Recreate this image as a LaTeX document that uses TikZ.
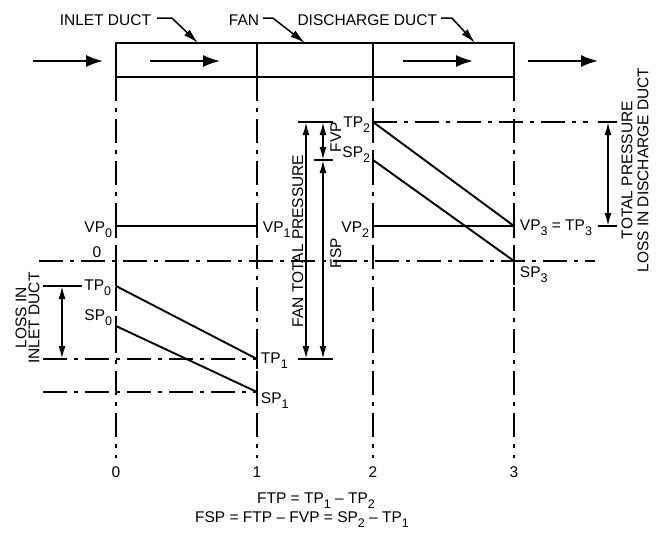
\documentclass[tikz,border=0pt]{standalone}
\usepackage{fontspec}
\setmainfont{Liberation Sans}
\usetikzlibrary{arrows.meta}
\newcommand{\dn}[1]{\raisebox{-5pt}{\fontsize{12.5}{12.5}\selectfont #1}}

\begin{document}
\begin{tikzpicture}[x=1pt, y=-1pt, line width=1.9pt,
    font=\fontsize{15.5}{16}\selectfont,
    centerline/.style={dash pattern=on 24pt off 7pt on 4pt off 7pt},
    dimline/.style={{Latex[length=13pt,width=7pt]}-{Latex[length=13pt,width=7pt]}},
    flow/.style={-{Latex[length=17pt,width=12pt]}},
    leader/.style={-{Latex[length=15pt,width=8pt]}, line width=1.5pt},
    lbl/.style={inner sep=0pt}]
    \useasboundingbox (0,0) rectangle (660,532);

    % ── Duct and flow ────────────────────────────────────────────────
    \draw (116,43) rectangle (514,77);
    \draw (257,43) -- (257,77);
    \draw (373,43) -- (373,77);

    \coordinate (inA) at (33,61);   \coordinate (inB) at (103,61);
    \coordinate (ductA) at (150,61); \coordinate (ductB) at (220,61);
    \coordinate (disA) at (403,61); \coordinate (disB) at (473,61);
    \coordinate (outA) at (528,61); \coordinate (outB) at (598,61);
    \draw[flow] (inA) -- (inB);
    \draw[flow] (ductA) -- (ductB);
    \draw[flow] (disA) -- (disB);
    \draw[flow] (outA) -- (outB);

    \node[lbl, anchor=base east] (inletLbl) at (152,26) {INLET DUCT};
    \node[lbl, anchor=base east] (fanLbl)   at (260,26) {FAN};
    \node[lbl, anchor=base east] (dischLbl) at (438,26) {DISCHARGE DUCT};
    \coordinate (inletTip) at (198,43);
    \coordinate (fanTip)   at (305,43);
    \coordinate (dischTip) at (475,43);
    \draw[leader] ([xshift=5pt,yshift=2.5pt]inletLbl.east) -- ++(15,0) -- (inletTip);
    \draw[leader] ([xshift=3pt,yshift=2.5pt]fanLbl.east) -- ++(10,0) -- (fanTip);
    \draw[leader] ([xshift=3pt,yshift=2.5pt]dischLbl.east) -- ++(11,0) -- (dischTip);

    % ── Sections 0 to 3 ──────────────────────────────────────────────
    \foreach \x/\n in {116/0, 257/1, 373/2, 514/3} {
      \draw[centerline] (\x,77) -- (\x,458);
      \node[lbl, anchor=base] (sec\n) at (\x,477) {\n};
    }

    % ── Reference lines ──────────────────────────────────────────────
    \draw[centerline] (39,261) -- (595,261);
    \node[lbl, anchor=base] (zeroLbl) at (97,257) {0};
    \draw[centerline] (373,122) -- (588,122);
    \draw[centerline] (43,359) -- (257,359);
    \draw[centerline] (43,392) -- (257,392);

    % ── Pressure points ──────────────────────────────────────────────
    \coordinate (VPzero)  at (116,226);
    \coordinate (TPzero)  at (116,286);
    \coordinate (SPzero)  at (116,326);
    \coordinate (VPone)   at (257,226);
    \coordinate (TPone)   at (257,359);
    \coordinate (SPone)   at (257,392);
    \coordinate (TPtwo)   at (373,122);
    \coordinate (SPtwo)   at (373,160);
    \coordinate (VPtwo)   at (373,226);
    \coordinate (VPthree) at (514,226);
    \coordinate (SPthree) at (514,261);

    \draw (VPzero) -- (VPone);
    \draw (VPtwo) -- (VPthree);
    \draw (TPzero) -- (TPone);
    \draw (SPzero) -- (SPone);
    \draw (TPtwo) -- (VPthree);
    \draw (SPtwo) -- (SPthree);

    \foreach \p in {VPzero, SPzero, VPone, TPone, SPone, TPtwo, SPtwo, VPtwo, VPthree}
      \draw ([yshift=10pt]\p) -- ([yshift=-10pt]\p);
    \draw (TPzero) -- ([yshift=25pt]TPzero);
    \draw (SPthree) -- ([yshift=-24pt]SPthree);

    \node[lbl, anchor=base east] (lVPzero) at (113,232) {VP\dn{0}};
    \node[lbl, anchor=base east] (lTPzero) at (112,290) {TP\dn{0}};
    \node[lbl, anchor=base east] (lSPzero) at (113,320) {SP\dn{0}};
    \node[lbl, anchor=base west] (lVPone)  at (262,232) {VP\dn{1}};
    \node[lbl, anchor=base west] (lTPone)  at (260,363) {TP\dn{1}};
    \node[lbl, anchor=base west] (lSPone)  at (260,403) {SP\dn{1}};
    \node[lbl, anchor=base east] (lTPtwo)  at (371,127) {TP\dn{2}};
    \node[lbl, anchor=base east] (lSPtwo)  at (371,157) {SP\dn{2}};
    \node[lbl, anchor=base east] (lVPtwo)  at (370,232) {VP\dn{2}};
    \node[lbl, anchor=base west] (lVPthree) at (519,230) {VP\dn{3} = TP\dn{3}};
    \node[lbl, anchor=base west] (lSPthree) at (519,277) {SP\dn{3}};

    % ── Inlet duct loss ──────────────────────────────────────────────
    \coordinate (lossTop) at (62,286);
    \coordinate (lossBot) at (62,359);
    \draw (43,286) -- (82,286);
    \draw[dimline] (lossTop) -- (lossBot);
    \node[lbl, rotate=90, align=center, font=\fontsize{15.5}{13}\selectfont]
      (lossInLbl) at (27.5,318) {LOSS IN\\INLET DUCT};

    % ── Fan pressures ────────────────────────────────────────────────
    \coordinate (ftpTop) at (306,122);
    \coordinate (ftpBot) at (306,359);
    \coordinate (fvpTop) at (323,122);
    \coordinate (fvpBot) at (323,160);
    \coordinate (fspBot) at (323,359);
    \draw (298,122) -- (333,122);
    \draw (314,160) -- (333,160);
    \draw (298,359) -- (333,359);
    \draw[dimline] (ftpTop) -- (ftpBot);
    \draw[dimline] (fvpTop) -- (fvpBot);
    \draw[dimline] (fvpBot) -- (fspBot);
    \node[lbl, rotate=90, anchor=base] (ftpLbl) at (303,241) {FAN TOTAL PRESSURE};
    \node[lbl, rotate=90, anchor=base] (fvpLbl) at (341,137) {FVP};
    \node[lbl, rotate=90, anchor=base] (fspLbl) at (341,253) {FSP};

    % ── Discharge duct loss ──────────────────────────────────────────
    \coordinate (disTop) at (608,122);
    \coordinate (disBot) at (608,226);
    \draw (598,122) -- (617,122);
    \draw (598,226) -- (617,226);
    \draw[dimline] (disTop) -- (disBot);
    \node[lbl, rotate=90, align=center] (lossDisLbl) at (635,170)
      {TOTAL PRESSURE\\LOSS IN DISCHARGE DUCT};

    % ── Relations ────────────────────────────────────────────────────
    \node[lbl, anchor=base] (ftpEq) at (316,503) {FTP = TP\dn{1} – TP\dn{2}};
    \node[lbl, anchor=base] (fspEq) at (302,522) {FSP = FTP – FVP = SP\dn{2} – TP\dn{1}};
  \end{tikzpicture}
\end{document}
